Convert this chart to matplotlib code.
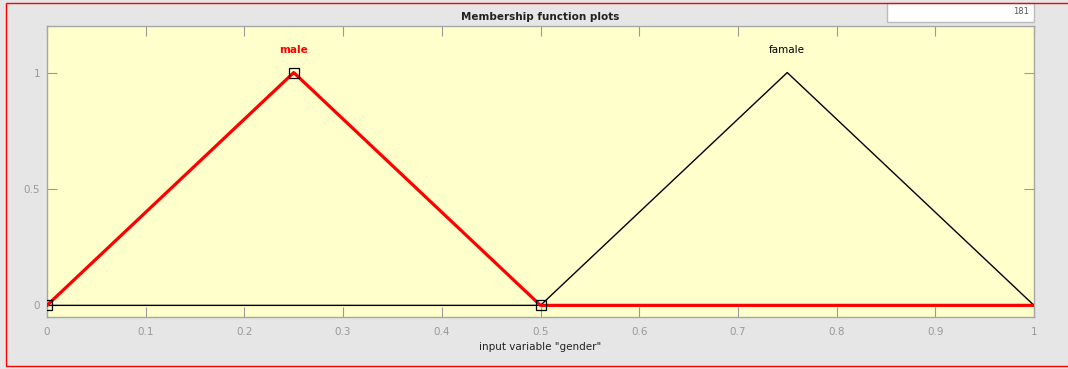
import matplotlib.pyplot as plt
from matplotlib.patches import Rectangle

# membership functions of input "gender" (triangular)
mf_names = ["male", "famale"]
male_x = [0, 0.25, 0.5, 1]
male_y = [0, 1, 0, 0]
famale_x = [0, 0.5, 0.75, 1]
famale_y = [0, 0, 1, 0]
male_params = [0, 0.25, 0.5]
x_ticks = [0, 0.1, 0.2, 0.3, 0.4, 0.5, 0.6, 0.7, 0.8, 0.9, 1]
x_ticklabels = ["0", "0.1", "0.2", "0.3", "0.4", "0.5", "0.6", "0.7", "0.8", "0.9", "1"]
y_ticks = [0, 0.5, 1]
y_ticklabels = ["0", "0.5", "1"]

fig = plt.figure(figsize=(10.68, 3.69), dpi=100, facecolor="#e6e6e6")
ax = fig.add_axes([47/1068, 52/369, 987/1068, 291/369])
ax.set_facecolor("#ffffcc")

ax.plot(famale_x, famale_y, color="black", lw=1.0, zorder=3)
ax.plot(male_x, male_y, color="red", lw=2.3, zorder=4)
ax.plot(male_params, [0, 1, 0], ls="none", marker="s", ms=6.5,
        mfc="none", mec="black", mew=0.9, zorder=5)

ax.text(0.25, 1.095, mf_names[0], color="red", fontsize=7.5, fontweight="bold",
        ha="center", va="center")
ax.text(0.75, 1.095, mf_names[1], color="black", fontsize=7.5,
        ha="center", va="center")

ax.set_xlim(0, 1)
ax.set_ylim(-0.05, 1.2)
ax.set_xticks(x_ticks)
ax.set_xticklabels(x_ticklabels)
ax.set_yticks(y_ticks)
ax.set_yticklabels(y_ticklabels)
ax.tick_params(direction="in", length=7, width=0.8, color="#999999",
               labelcolor="#999999", labelsize=7.5, top=True, right=True)
ax.tick_params(axis="x", pad=7)
ax.tick_params(axis="y", pad=5)
for s in ax.spines.values():
    s.set_color("#a6a6a6")
    s.set_linewidth(1.0)

ax.set_title("Membership function plots", fontsize=7.5, fontweight="bold",
             color="#222222", pad=4)
ax.set_xlabel('input variable "gender"', fontsize=7.5, color="#222222", labelpad=4)

# small white box at the top right
fig.patches.append(Rectangle((887/1068, 347/369), 147/1068, 19/369,
                             transform=fig.transFigure, facecolor="white",
                             edgecolor="#bbbbbb", lw=1.0))
fig.text(1029/1068, 357/369, "181", fontsize=6, color="#555555",
         ha="right", va="center")

# red frame around the whole figure
fig.patches.append(Rectangle((6/1068, 3/369), 1.05, 363/369,
                             transform=fig.transFigure, facecolor="none",
                             edgecolor="red", lw=1.0, zorder=10))

fig.savefig("out.png", dpi=100, facecolor=fig.get_facecolor())
